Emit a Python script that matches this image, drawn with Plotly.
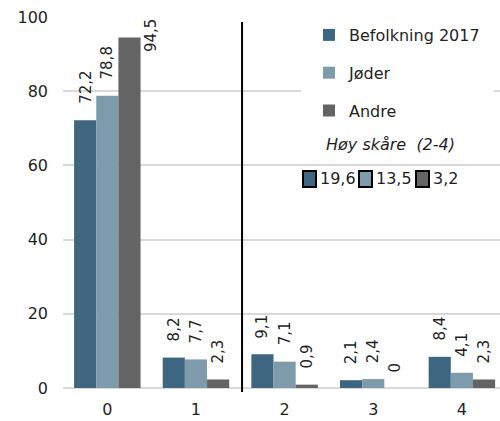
import plotly.graph_objects as go

categories = [0, 1, 2, 3, 4]
tick_labels = ["0", "1", "2", "3", "4"]
series_names = ["Befolkning 2017", "Jøder", "Andre"]
befolkning = [72.2, 8.2, 9.1, 2.1, 8.4]
joder = [78.8, 7.7, 7.1, 2.4, 4.1]
andre = [94.5, 2.3, 0.9, 0.0, 2.3]
hoy_label = "Høy skåre  (2-4)"
hoy_values = ["19,6", "13,5", "3,2"]

colors = ["#3e6680", "#7e9bab", "#646464"]
FONT = "DejaVu Sans"
TXT = "#1f1f1f"

W, H = 500, 421
L, R, T, B = 63, 0, 17, 33
PW, PH = W - L - R, H - T - B


def px(xp):
    return (xp - L) / PW


def py(yp):
    return (H - B - yp) / PH


def fmt(v):
    s = ("%.1f" % v).replace(".", ",")
    return "0" if v == 0 else s


fig = go.Figure()
all_series = [befolkning, joder, andre]
for k, (name, vals) in enumerate(zip(series_names, all_series)):
    fig.add_trace(go.Bar(
        x=categories, y=vals, name=name,
        marker=dict(color=colors[k], line=dict(width=0)),
        legendgroup="g%d" % k,
    ))

# data labels
offsets = [-0.25, 0.0, 0.25]
annotations = []
for k, vals in enumerate(all_series):
    for c, v in zip(categories, vals):
        if v > 88:
            annotations.append(dict(
                x=c + offsets[k] + 0.125, y=100, xref="x", yref="y",
                text=fmt(v), showarrow=False, textangle=-90,
                xanchor="left", yanchor="top", xshift=-1,
                font=dict(family=FONT, size=15, color=TXT)))
        else:
            annotations.append(dict(
                x=c + offsets[k], y=v, xref="x", yref="y",
                text=fmt(v), showarrow=False, textangle=-90,
                xanchor="center", yanchor="bottom", yshift=14,
                font=dict(family=FONT, size=15, color=TXT)))

annotations.append(dict(
    x=px(390), y=py(144), xref="paper", yref="paper",
    text="<i>" + hoy_label + "</i>", showarrow=False,
    xanchor="center", yanchor="middle",
    font=dict(family=FONT, size=16, color=TXT)))

sq_x = [303, 359, 416]
shapes = [
    dict(type="rect", xref="paper", yref="paper",
         x0=px(301), x1=px(494), y0=py(164), y1=py(14),
         fillcolor="white", line=dict(width=0), layer="above"),
    dict(type="line", xref="x", yref="paper", x0=1.52, x1=1.52,
         y0=py(392), y1=py(22), line=dict(color="black", width=2)),
]
for k, (sx, val) in enumerate(zip(sq_x, hoy_values)):
    shapes.append(dict(type="rect", xref="paper", yref="paper",
                       x0=px(sx), x1=px(sx + 13), y0=py(187), y1=py(171),
                       fillcolor=colors[k], line=dict(color="black", width=2)))
    annotations.append(dict(
        x=px(sx + 15), y=py(179), xref="paper", yref="paper",
        text=val, showarrow=False, xanchor="left", yanchor="middle",
        font=dict(family=FONT, size=16, color=TXT)))

fig.update_layout(
    width=W, height=H,
    margin=dict(l=L, r=R, t=T, b=B, pad=0),
    paper_bgcolor="white", plot_bgcolor="white",
    barmode="group", bargap=0.25, bargroupgap=0,
    font=dict(family=FONT, size=16, color=TXT),
    showlegend=True,
    legend=dict(x=px(309), y=py(18), xanchor="left", yanchor="top",
                bgcolor="rgba(0,0,0,0)", tracegroupgap=14,
                font=dict(family=FONT, size=16, color=TXT),
                itemwidth=30),
    xaxis=dict(range=[-0.5, 4.43], tickvals=categories, ticktext=tick_labels,
               showgrid=False, zeroline=False, showline=False, ticks="",
               ticklabelstandoff=10, fixedrange=True,
               tickfont=dict(family=FONT, size=16, color=TXT)),
    yaxis=dict(range=[0, 100], tickvals=[0, 20, 40, 60, 80, 100],
               showgrid=True, gridcolor="#d9d9d9", gridwidth=2,
               zeroline=True, zerolinecolor="#d9d9d9", zerolinewidth=2,
               ticks="", ticklabelstandoff=14, fixedrange=True,
               tickfont=dict(family=FONT, size=16, color=TXT)),
    annotations=annotations,
    shapes=shapes,
)

fig.write_html(
    "out.html",
    config={"displayModeBar": False},
    post_script="document.body.style.margin='0';document.body.style.overflow='hidden';",
)
